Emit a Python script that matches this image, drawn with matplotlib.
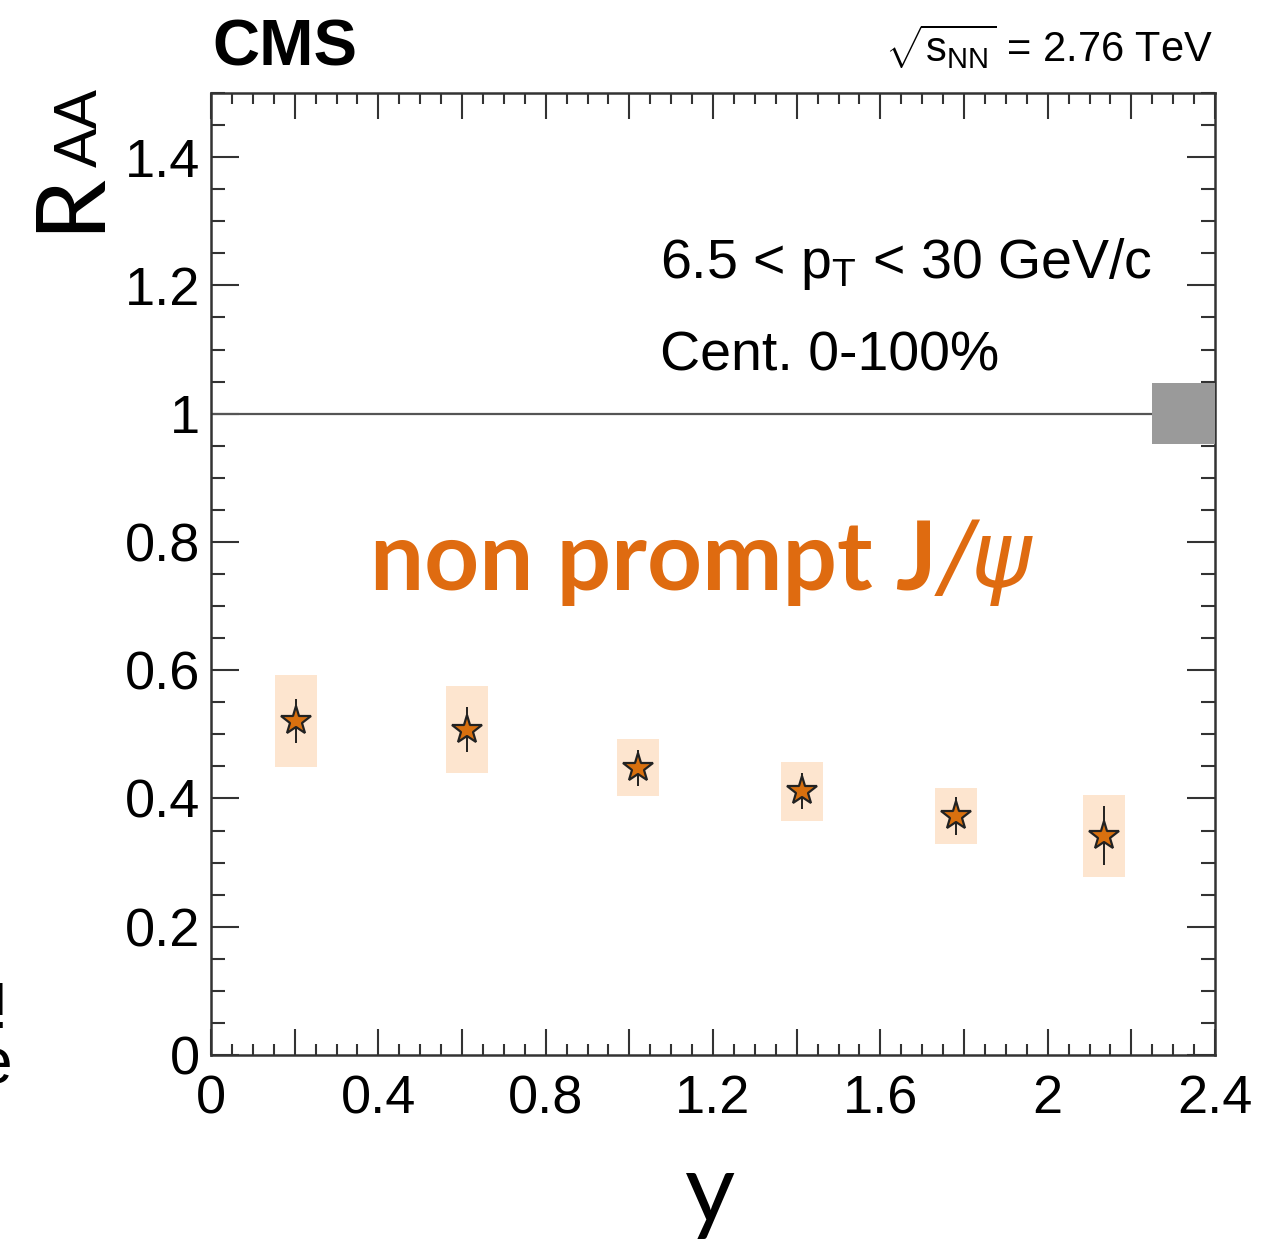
import matplotlib
matplotlib.use("Agg")
import matplotlib.pyplot as plt
from matplotlib.ticker import MultipleLocator, FixedLocator, FixedFormatter

# non prompt J/psi R_AA vs rapidity, 6.5 < pT < 30 GeV/c, cent. 0-100%
rapidity = [0.203, 0.612, 1.021, 1.412, 1.781, 2.135]
raa = [0.521, 0.507, 0.448, 0.411, 0.373, 0.342]
stat_err = [0.034, 0.035, 0.028, 0.028, 0.030, 0.046]
syst_err = [0.072, 0.068, 0.044, 0.046, 0.044, 0.064]
global_unc = 0.048

x_ticks = [0.0, 0.2, 0.4, 0.6, 0.8, 1.0, 1.2, 1.4, 1.6, 1.8, 2.0, 2.2, 2.4]
x_tick_labels = ["0", "", "0.4", "", "0.8", "", "1.2", "", "1.6", "", "2", "", "2.4"]
y_ticks = [0.0, 0.2, 0.4, 0.6, 0.8, 1.0, 1.2, 1.4]
y_tick_labels = ["0", "0.2", "0.4", "0.6", "0.8", "1", "1.2", "1.4"]

orange = "#df6b10"
box_fill = "#fde5cf"
axis_col = "#333333"

plt.rcParams["font.family"] = ["Liberation Sans", "DejaVu Sans"]
plt.rcParams["mathtext.fontset"] = "custom"
plt.rcParams["mathtext.rm"] = "Liberation Sans"
plt.rcParams["mathtext.it"] = "Liberation Sans:italic"

W, H = 1269, 1241
fig = plt.figure(figsize=(W / 100, H / 100), dpi=100)
ax = fig.add_axes([211 / W, 1 - 1055 / H, (1215 - 211) / W, (1055 - 93) / H])

ax.set_xlim(0, 2.4)
ax.set_ylim(0, 1.5)

# systematic boxes
ax.bar(rapidity, [2 * s for s in syst_err],
       bottom=[v - s for v, s in zip(raa, syst_err)],
       width=0.1, color=box_fill, edgecolor="none", zorder=1)

# line at unity and global uncertainty box
ax.axhline(1.0, color="#555555", lw=1.6, zorder=2)
ax.bar(2.325, 2 * global_unc, bottom=1 - global_unc, width=0.15,
       color="#9a9a9a", edgecolor="none", zorder=3)

# statistical errors and points
ax.errorbar(rapidity, raa, yerr=stat_err, fmt="none", ecolor="#111111",
            elinewidth=1.3, capsize=0, zorder=4)
ax.plot(rapidity, raa, "*", ms=22, mfc="#d8700f", mec="#222222",
        mew=1.6, zorder=5)

# axes styling
for sp in ax.spines.values():
    sp.set_color(axis_col)
    sp.set_linewidth(1.8)

ax.xaxis.set_major_locator(FixedLocator(x_ticks))
ax.xaxis.set_major_formatter(FixedFormatter(x_tick_labels))
ax.xaxis.set_minor_locator(MultipleLocator(0.05))
ax.yaxis.set_major_locator(FixedLocator(y_ticks))
ax.yaxis.set_major_formatter(FixedFormatter(y_tick_labels))
ax.yaxis.set_minor_locator(MultipleLocator(0.05))

ax.tick_params(which="both", direction="in", top=True, right=True,
               color=axis_col, width=1.5)
ax.tick_params(axis="x", which="major", length=19, pad=14, labelsize=39)
ax.tick_params(axis="x", which="minor", length=8)
ax.tick_params(axis="y", which="major", length=20, pad=8, labelsize=39)
ax.tick_params(axis="y", which="minor", length=10)

# header texts
fig.text(212 / W, 1 - 65 / H, "CMS", fontsize=47, fontweight="bold",
         ha="left", va="baseline")
fig.text(1213 / W, 1 - 62 / H, r"$\sqrt{\mathrm{s}_{\mathrm{NN}}}$ = 2.76 TeV",
         fontsize=30, ha="right", va="baseline")

# kinematic selection
fig.text(660 / W, 1 - 278 / H, r"6.5 < p$_{\mathrm{T}}$ < 30 GeV/c",
         fontsize=40, va="baseline")
fig.text(660 / W, 1 - 370 / H, "Cent. 0-100%", fontsize=40, va="baseline")

# species label
lab = fig.text(370 / W, 1 - 590 / H, "non prompt J", fontsize=69,
               fontweight="bold", family=["Lato", "DejaVu Sans"],
               color=orange, va="baseline")
ax.annotate("/ψ", xy=(1.0, 0.0), xycoords=lab, xytext=(3, 0),
            textcoords="offset points", fontsize=66, style="italic",
            family=["DejaVu Sans"], color=orange, va="bottom", ha="left")

# axis titles
fig.text(97 / W, 1 - 232 / H, "R", fontsize=70, rotation=90,
         family=["Lato", "DejaVu Sans"], ha="left", va="baseline",
         rotation_mode="anchor")
fig.text(97 / W, 1 - 167 / H, "AA", fontsize=42, rotation=90,
         family=["Lato", "DejaVu Sans"], ha="left", va="baseline",
         rotation_mode="anchor")
fig.text(710 / W, 1 - 1222 / H, "y", fontsize=70,
         family=["Lato", "DejaVu Sans"], ha="center", va="baseline")

# clipped fragments at the left edge
fig.text(-10 / W, 1 - 1028 / H, "!", fontsize=46, ha="left", va="baseline")
fig.text(-24 / W, 1 - 1084 / H, "e", fontsize=46, ha="left", va="baseline")

fig.savefig("out.png", dpi=100)
